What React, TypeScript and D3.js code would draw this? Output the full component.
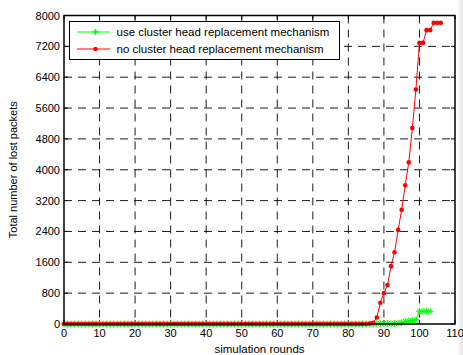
import React from "react";
import * as d3 from "d3";

const xTicks = [0, 10, 20, 30, 40, 50, 60, 70, 80, 90, 100, 110];
const yTicks = [0, 800, 1600, 2400, 3200, 4000, 4800, 5600, 6400, 7200, 8000];

const seriesNames = [
  "use cluster head replacement mechanism",
  "no cluster head replacement mechanism",
];

const redRounds = [
  0, 1, 2, 3, 4, 5, 6, 7, 8, 9, 10, 11, 12, 13, 14, 15, 16, 17, 18, 19,
  20, 21, 22, 23, 24, 25, 26, 27, 28, 29, 30, 31, 32, 33, 34, 35, 36, 37, 38, 39,
  40, 41, 42, 43, 44, 45, 46, 47, 48, 49, 50, 51, 52, 53, 54, 55, 56, 57, 58, 59,
  60, 61, 62, 63, 64, 65, 66, 67, 68, 69, 70, 71, 72, 73, 74, 75, 76, 77, 78, 79,
  80, 81, 82, 83, 84, 85, 86, 87, 88, 89, 90, 91, 92, 93, 94, 95, 96, 97, 98, 99,
  100, 101, 102, 103, 104, 105, 106,
];
const redValues = [
  0, 0, 0, 0, 0, 0, 0, 0, 0, 0, 0, 0, 0, 0, 0, 0, 0, 0, 0, 0,
  0, 0, 0, 0, 0, 0, 0, 0, 0, 0, 0, 0, 0, 0, 0, 0, 0, 0, 0, 0,
  0, 0, 0, 0, 0, 0, 0, 0, 0, 0, 0, 0, 0, 0, 0, 0, 0, 0, 0, 0,
  0, 0, 0, 0, 0, 0, 0, 0, 0, 0, 0, 0, 0, 0, 0, 0, 0, 0, 0, 0,
  0, 0, 0, 0, 0, 0, 10, 30, 170, 550, 800, 1010, 1500, 1860, 2440, 2960, 3600, 4190, 5080, 6080,
  7290, 7290, 7620, 7620, 7810, 7810, 7810,
];

const greenRounds = [
  0, 1, 2, 3, 4, 5, 6, 7, 8, 9, 10, 11, 12, 13, 14, 15, 16, 17, 18, 19,
  20, 21, 22, 23, 24, 25, 26, 27, 28, 29, 30, 31, 32, 33, 34, 35, 36, 37, 38, 39,
  40, 41, 42, 43, 44, 45, 46, 47, 48, 49, 50, 51, 52, 53, 54, 55, 56, 57, 58, 59,
  60, 61, 62, 63, 64, 65, 66, 67, 68, 69, 70, 71, 72, 73, 74, 75, 76, 77, 78, 79,
  80, 81, 82, 83, 84, 85, 86, 87, 88, 89, 90, 91, 92, 93, 94, 95, 96, 97, 98, 99,
  100, 101, 102, 103,
];
const greenValues = [
  0, 0, 0, 0, 0, 0, 0, 0, 0, 0, 0, 0, 0, 0, 0, 0, 0, 0, 0, 0,
  0, 0, 0, 0, 0, 0, 0, 0, 0, 0, 0, 0, 0, 0, 0, 0, 0, 0, 0, 0,
  0, 0, 0, 0, 0, 0, 0, 0, 0, 0, 0, 0, 0, 0, 0, 0, 0, 0, 0, 0,
  0, 0, 0, 0, 0, 0, 0, 0, 0, 0, 0, 0, 0, 0, 0, 0, 0, 0, 0, 0,
  0, 0, 0, 0, 0, 0, 0, 0, 10, 10, 10, 10, 10, 10, 20, 30, 70, 80, 90, 110,
  330, 330, 330, 330,
];

const W = 463;
const H = 355;
const L = 64;
const R = 455;
const T = 15.5;
const B = 324;
const FONT = "'Liberation Sans', Arial, sans-serif";

const Asterisk = ({ x, y, s, c }: { x: number; y: number; s: number; c: string }) => {
  const d = s * 0.72;
  return (
    <g stroke={c} strokeWidth={1}>
      <line x1={x - s} y1={y} x2={x + s} y2={y} />
      <line x1={x} y1={y - s} x2={x} y2={y + s} />
      <line x1={x - d} y1={y - d} x2={x + d} y2={y + d} />
      <line x1={x - d} y1={y + d} x2={x + d} y2={y - d} />
    </g>
  );
};

export default function App() {
  const x = d3.scaleLinear().domain([0, 110]).range([L, R]);
  const y = d3.scaleLinear().domain([0, 8000]).range([B, T]);
  const line = d3
    .line<[number, number]>()
    .x((d) => x(d[0]))
    .y((d) => y(d[1]));
  const green: [number, number][] = greenRounds.map((r, i) => [r, greenValues[i]]);
  const red: [number, number][] = redRounds.map((r, i) => [r, redValues[i]]);
  const GREEN = "#00ff00";
  const RED = "#ff0000";
  const dash = "8,6";
  const tl = 4;

  return (
    <svg
      width={W}
      height={H}
      style={{ position: "fixed", left: 0, top: 0, background: "#fff" }}
      fontFamily={FONT}
    >
      <defs>
        <linearGradient id="shade" x1="0" x2="1" y1="0" y2="0">
          <stop offset="0" stopColor="#ffffff" stopOpacity="0" />
          <stop offset="1" stopColor="#d8d8d8" stopOpacity="0.8" />
        </linearGradient>
      </defs>
      <rect x={0} y={0} width={W} height={H} fill="#fff" />
      <rect x={R} y={0} width={W - R} height={H} fill="url(#shade)" />
      <rect x={L} y={T} width={R - L} height={B - T} fill="#fff" />

      {/* grid */}
      {xTicks
        .filter((t) => t > 0 && t < 110)
        .map((t) => (
          <line key={"gx" + t} x1={x(t)} x2={x(t)} y1={T} y2={B} stroke="#000" strokeWidth={0.9} strokeDasharray={dash} />
        ))}
      {yTicks
        .filter((t) => t > 0 && t < 8000)
        .map((t) => (
          <line key={"gy" + t} x1={L} x2={R} y1={y(t)} y2={y(t)} stroke="#000" strokeWidth={0.9} strokeDasharray={dash} />
        ))}

      {/* ticks */}
      {xTicks.map((t) => (
        <g key={"tx" + t} stroke="#000" strokeWidth={1}>
          <line x1={x(t)} x2={x(t)} y1={B} y2={B - tl} />
          <line x1={x(t)} x2={x(t)} y1={T} y2={T + tl} />
        </g>
      ))}
      {yTicks.map((t) => (
        <g key={"ty" + t} stroke="#000" strokeWidth={1}>
          <line x1={L} x2={L + tl} y1={y(t)} y2={y(t)} />
          <line x1={R} x2={R - tl} y1={y(t)} y2={y(t)} />
        </g>
      ))}

      {/* series */}
      <path d={line(green) || ""} fill="none" stroke={GREEN} strokeWidth={1} />
      {green.map((d, i) => (
        <Asterisk key={"g" + i} x={x(d[0])} y={y(d[1])} s={3.5} c={GREEN} />
      ))}
      <path d={line(red) || ""} fill="none" stroke={RED} strokeWidth={1} />
      {red.map((d, i) => (
        <circle key={"r" + i} cx={x(d[0])} cy={y(d[1])} r={2.3} fill={RED} />
      ))}

      {/* frame */}
      <rect x={L} y={T} width={R - L} height={B - T} fill="none" stroke="#000" strokeWidth={1.5} />

      {/* tick labels */}
      {xTicks.map((t) => (
        <text key={"lx" + t} x={x(t)} y={B + 13} textAnchor="middle" fontSize={11} fill="#000">
          {t}
        </text>
      ))}
      {yTicks.map((t) => (
        <text key={"ly" + t} x={L - 4} y={y(t) + 4} textAnchor="end" fontSize={11} fill="#000">
          {t}
        </text>
      ))}

      {/* axis labels */}
      <text x={(L + R) / 2} y={353} textAnchor="middle" fontSize={11.5} fill="#000">
        simulation rounds
      </text>
      <text
        transform={`translate(17,${(T + B) / 2}) rotate(-90)`}
        textAnchor="middle"
        fontSize={11}
        fill="#000"
      >
        Total number of lost packets
      </text>

      {/* legend */}
      <rect x={69.5} y={21.5} width={270} height={38} fill="#fff" stroke="#000" strokeWidth={1} />
      <line x1={77} x2={110} y1={32} y2={32} stroke={GREEN} strokeWidth={1} />
      <Asterisk x={95.5} y={32} s={3} c={GREEN} />
      <text x={116.5} y={36} fontSize={11.5} fill="#000">
        {seriesNames[0]}
      </text>
      <line x1={77} x2={110} y1={49} y2={49} stroke={RED} strokeWidth={1} />
      <circle cx={95.5} cy={49} r={2.2} fill={RED} />
      <text x={116.5} y={53} fontSize={11.5} fill="#000">
        {seriesNames[1]}
      </text>
    </svg>
  );
}
